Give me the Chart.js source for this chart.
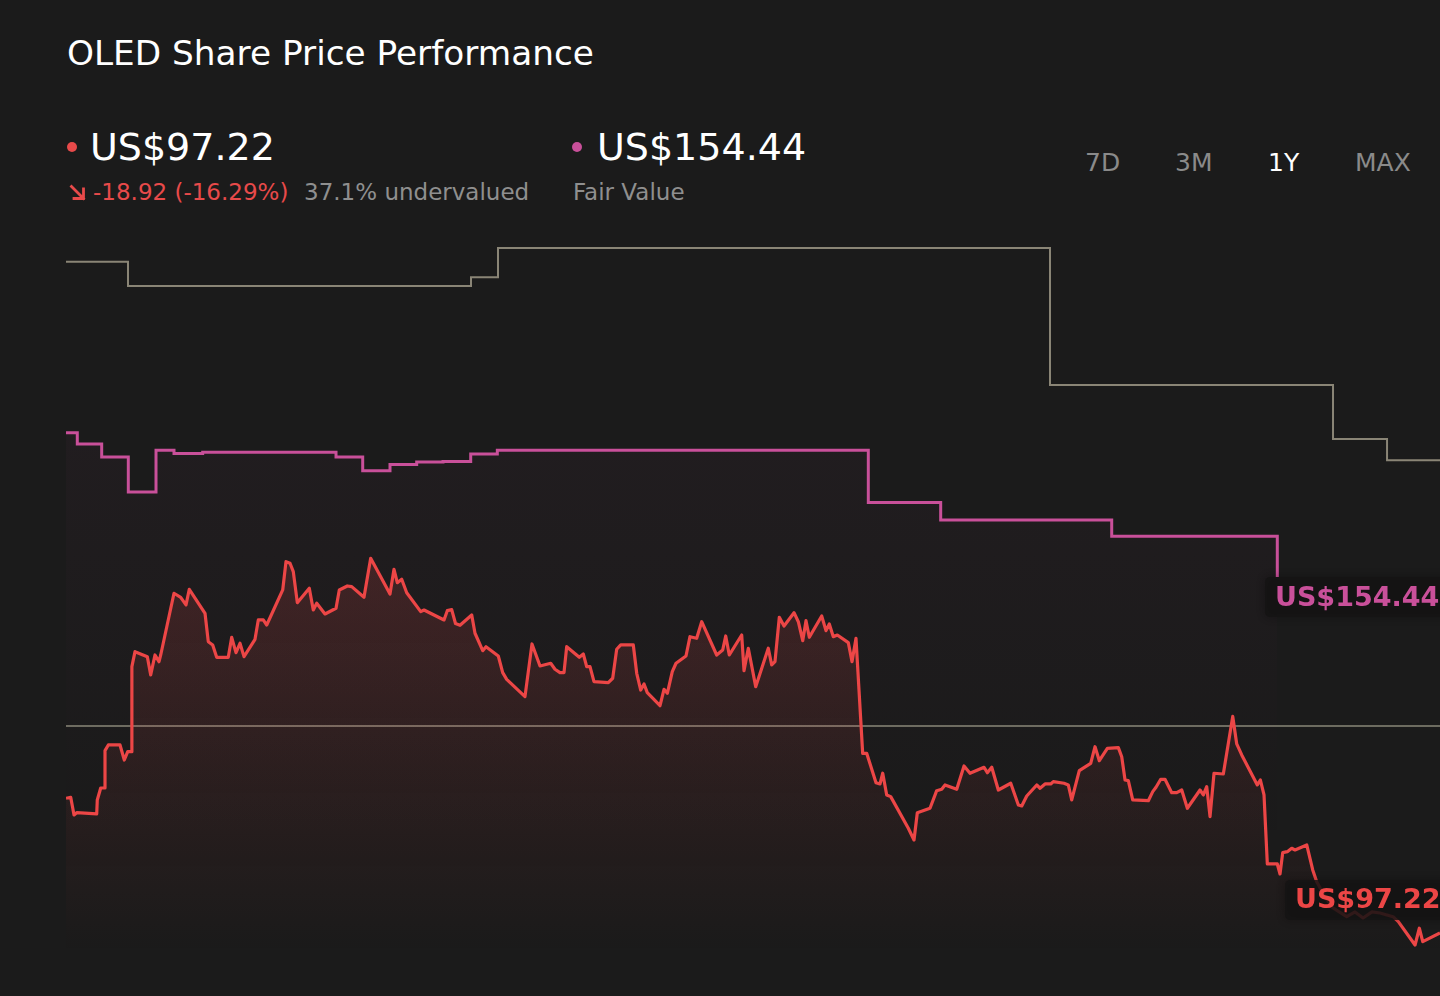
<!DOCTYPE html>
<html>
<head>
<meta charset="utf-8">
<script src="https://cdn.jsdelivr.net/npm/chart.js@4.4.0/dist/chart.umd.min.js"></script>
<style>
  html,body{margin:0;padding:0;background:#1b1b1b;width:1440px;height:996px;overflow:hidden;font-family:"DejaVu Sans",sans-serif;}
  .t{position:absolute;white-space:nowrap;line-height:1;}
  #wrap{position:absolute;left:66px;top:220px;width:1374px;height:776px;}
  .dot{position:absolute;width:10px;height:10px;border-radius:50%;}
</style>
</head>
<body>
<div class="t" style="left:67px;top:36px;font-size:34.3px;color:#ffffff;">OLED Share Price Performance</div>

<div class="dot" style="left:67px;top:142px;background:#e84a4a;"></div>
<div class="t" style="left:90px;top:128px;font-size:38px;color:#ffffff;">US$97.22</div>
<svg style="position:absolute;left:69px;top:184px;" width="18" height="18" viewBox="0 0 18 18">
  <path d="M2.5 2.5 L14.5 14.5 M5 14.5 L14.5 14.5 L14.5 5" stroke="#e84a4a" stroke-width="2.8" fill="none" stroke-linecap="square"/>
</svg>
<div class="t" style="left:93px;top:181px;font-size:23px;color:#e84a4a;">-18.92 (-16.29%)</div>
<div class="t" style="left:304px;top:181px;font-size:23px;color:#8f8f8f;">37.1% undervalued</div>

<div class="dot" style="left:572px;top:142px;background:#c9509a;"></div>
<div class="t" style="left:597px;top:128px;font-size:38px;color:#ffffff;">US$154.44</div>
<div class="t" style="left:573px;top:181px;font-size:23px;color:#8f8f8f;">Fair Value</div>

<div class="t" style="left:1085px;top:150px;font-size:25px;color:#8a8a8a;">7D</div>
<div class="t" style="left:1175px;top:150px;font-size:25px;color:#8a8a8a;">3M</div>
<div class="t" style="left:1268px;top:150px;font-size:25px;color:#ffffff;">1Y</div>
<div class="t" style="left:1355px;top:150px;font-size:25px;color:#8a8a8a;">MAX</div>

<div id="wrap"><canvas id="c"></canvas></div>

<script>
// ---- data (x = days into the 1-year window) ----
const priceDays = [0,1.25,2.13,2.84,8.16,8.31,9.22,10.17,10.36,11.24,
14.35,15.49,16.39,17.45,17.5,18.33,21.6,22.5,23.64,24.71,
25.16,28.69,30.47,31.88,32.75,36.93,37.8,38.97,40.03,43.11,
44.02,45.16,46.22,47.29,50.21,51.08,52.41,53.32,57.57,58.44,
59.51,60.38,61.45,64.63,65.69,66.6,68.8,71.73,72.6,74.73,
75.9,79.16,80.94,86.07,87.13,88.01,89.18,90.51,94.23,95.11,
100.42,101.29,102.46,103.47,104.67,107.78,108.65,110.7,111.57,114.84,
116.01,117.07,121.93,123.79,125.92,128.76,129.9,131.23,132.29,133.01,
136.36,137.42,138.32,139.2,140.26,144.06,145.23,146.29,147.36,150.7,
151.61,152.67,153.55,154.42,157.8,158.86,159.74,161.06,162.05,164.7,
165.76,167.54,168.87,172.85,174.45,175.25,176.2,179.5,180.11,181.25,
183.22,186.56,187.47,188.34,189.49,190.74,193.4,194.54,195.71,196.58,
197.46,200.75,201.89,202.77,203.83,204.9,207.82,208.8,209.86,211.64,
212.7,215.18,216.24,216.96,218.02,219.08,223.76,225.27,226.15,229.52,
231.3,232.63,233.51,236.62,238.56,240.15,243.87,244.75,245.92,247.67,
250.97,252.99,253.89,255.22,257.88,258.75,260.08,261.59,262.28,265.12,
266.26,267.17,269.18,272.21,273.36,274.5,276.63,279.55,280.45,281.33,
282.2,283.37,287.52,288.69,289.56,290.81,291.95,293.73,295.06,296.39,
297.88,301.25,302.13,303.03,303.91,304.97,307.44,309.94,311.0,312.33,
316.47,317.27,318.25,319.13,321.78,322.5,323.22,324.44,325.61,326.49,
329.6,331.19,332.25,334.45,336.58,340.22,342.42,344.55,346.94,349.07,
352.52,353.93,358.37,359.51,360.42,365];

const priceValues = [118.87,119.03,116.18,116.55,116.35,118.60,120.52,120.52,126.52,127.44,
127.44,125.02,126.36,126.36,140.02,142.43,141.63,138.69,141.90,140.82,
141.90,151.82,151.17,149.94,152.46,148.60,144.04,143.51,141.53,141.53,
144.74,142.27,143.78,141.63,144.42,147.53,147.53,146.72,152.35,156.90,
156.64,155.29,150.31,152.62,149.13,150.21,148.49,149.41,152.35,152.99,
152.88,151.17,157.44,151.70,155.67,153.52,154.07,151.91,148.86,149.13,
147.53,149.02,149.18,146.96,146.67,148.33,145.39,142.59,143.23,141.74,
139.06,137.99,135.20,143.67,140.13,140.57,139.60,139.06,139.06,143.23,
141.53,142.06,140.02,140.02,137.61,137.45,138.16,142.82,143.51,143.51,
138.96,136.27,137.24,135.84,133.75,136.39,135.74,139.22,140.57,141.74,
144.84,144.58,147.25,141.90,142.70,144.95,141.90,145.11,139.38,142.98,
136.81,142.98,140.29,140.82,147.96,146.56,148.70,147.25,144.20,147.41,
144.74,148.17,145.81,146.88,144.84,145.11,143.88,140.82,144.58,126.10,
126.10,121.38,121.17,122.89,119.40,119.13,114.05,112.17,116.55,117.26,
120.09,120.32,121.01,120.32,124.06,122.89,123.85,122.98,123.85,120.20,
121.28,117.79,117.63,119.24,121.01,120.48,121.17,121.17,121.54,121.28,
121.01,118.60,123.30,124.49,127.16,124.91,126.90,127.00,125.55,121.81,
121.70,118.60,118.48,119.93,120.64,121.92,121.92,119.77,119.77,120.20,
117.26,120.20,119.40,120.73,115.91,122.89,122.77,132.02,127.60,125.83,
121.01,121.81,119.40,108.31,108.31,106.70,110.13,110.29,110.83,110.56,
111.36,107.35,105.46,103.01,101.24,99.84,100.60,99.63,100.60,100.43,
99.84,99.04,95.29,97.98,95.82,97.22];

const fairDays   = [0,3.0,9.48,16.55,23.91,28.69,36.31,71.73,78.82,86.07,93.16,100.15,107.51,114.58,213.13,232.36,277.79,321.78];
const fairValues = [177.6,175.8,173.7,168.1,174.8,174.3,174.5,173.7,171.5,172.5,172.9,173.0,174.2,174.8,166.4,163.6,161.0,154.44];

const targetDays   = [0,16.47,107.59,114.76,261.4,336.58,350.93,365];
const targetValues = [205.1,201.2,202.6,207.3,185.3,176.6,173.2,173.2];

const referenceDays   = [0,365];
const referenceValues = [130.49,130.49];

const lastPrice = 97.22;
const lastFairValue = 154.44;
const priceLabel = "US$97.22";
const fairLabel = "US$154.44";

const toPoints = (xs, ys) => xs.map((x, i) => ({x: x, y: ys[i]}));

function redGradient(context){
  const chart = context.chart;
  const {ctx, chartArea, scales} = chart;
  if (!chartArea) return 'rgba(230,70,70,0.15)';
  const yTop = scales.y.getPixelForValue(157);
  const yBot = scales.y.getPixelForValue(94);
  const g = ctx.createLinearGradient(0, yTop, 0, yBot);
  g.addColorStop(0, 'rgba(232,74,74,0.17)');
  g.addColorStop(1, 'rgba(232,74,74,0.0)');
  return g;
}
function magGradient(context){
  const chart = context.chart;
  const {ctx, chartArea, scales} = chart;
  if (!chartArea) return 'rgba(200,80,150,0.02)';
  const yTop = scales.y.getPixelForValue(178);
  const yBot = scales.y.getPixelForValue(110);
  const g = ctx.createLinearGradient(0, yTop, 0, yBot);
  g.addColorStop(0, 'rgba(201,80,154,0.035)');
  g.addColorStop(1, 'rgba(201,80,154,0.0)');
  return g;
}

const labelPlugin = {
  id: 'valueLabels',
  afterDatasetsDraw(chart){
    const {ctx, scales, chartArea} = chart;
    const drawLabel = (text, color, value, boxOffset, textOffset, boxLeftFromRight) => {
      const py = scales.y.getPixelForValue(value);
      const bx = chartArea.right - boxLeftFromRight;
      ctx.save();
      ctx.shadowColor = 'rgba(0,0,0,0.35)';
      ctx.shadowBlur = 8;
      ctx.fillStyle = 'rgba(21,19,19,0.82)';
      ctx.beginPath();
      if (ctx.roundRect) ctx.roundRect(bx, py + boxOffset, boxLeftFromRight + 20, 40, 5);
      else ctx.rect(bx, py + boxOffset, boxLeftFromRight + 20, 40);
      ctx.fill();
      ctx.restore();
      ctx.save();
      ctx.font = 'bold 27px "DejaVu Sans", sans-serif';
      ctx.fillStyle = color;
      ctx.textBaseline = 'middle';
      ctx.fillText(text, bx + 10, py + textOffset);
      ctx.restore();
    };
    drawLabel(fairLabel, '#c9509a', lastFairValue, 0, 22, 175);
    drawLabel(priceLabel, '#ec4646', lastPrice, -53, -32, 155);
  }
};

new Chart(document.getElementById('c'), {
  type: 'line',
  data: {
    datasets: [
      {
        label: 'Share Price',
        data: toPoints(priceDays, priceValues),
        borderColor: '#ec4646',
        borderWidth: 3.2,
        backgroundColor: redGradient,
        fill: 'start',
        pointRadius: 0,
        tension: 0,
        borderJoinStyle: 'round'
      },
      {
        label: 'Fair Value',
        data: toPoints(fairDays, fairValues),
        borderColor: '#c9509a',
        borderWidth: 3,
        backgroundColor: magGradient,
        fill: 'start',
        stepped: 'before',
        pointRadius: 0
      },
      {
        label: 'Analyst Price Target',
        data: toPoints(targetDays, targetValues),
        borderColor: '#8a8576',
        borderWidth: 2,
        fill: false,
        stepped: 'before',
        pointRadius: 0
      },
      {
        label: 'Reference',
        data: toPoints(referenceDays, referenceValues),
        borderColor: '#8a8878',
        borderWidth: 1.5,
        fill: false,
        pointRadius: 0
      }
    ]
  },
  options: {
    responsive: true,
    maintainAspectRatio: false,
    animation: false,
    layout: {padding: 0},
    scales: {
      x: {type: 'linear', min: 0, max: 365, display: false},
      y: {type: 'linear', min: 87.09, max: 211.81, display: false}
    },
    plugins: {legend: {display: false}, tooltip: {enabled: false}},
    events: []
  },
  plugins: [labelPlugin]
});
</script>
</body>
</html>
